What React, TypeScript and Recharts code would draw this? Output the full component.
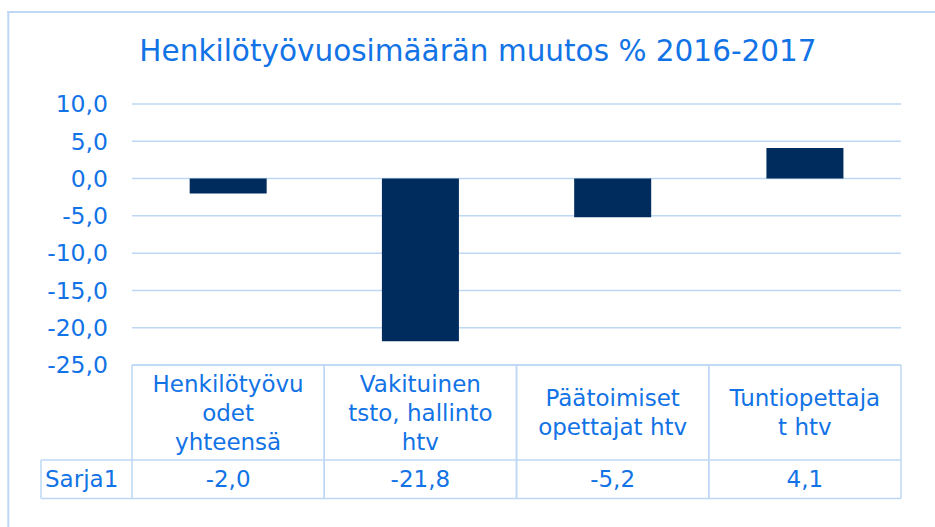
import React from 'react';
import { BarChart, Bar, XAxis, YAxis, CartesianGrid } from 'recharts';

const chartTitle = 'Henkilötyövuosimäärän muutos % 2016-2017';
const categories = [
  'Henkilötyövuodet yhteensä',
  'Vakituinen tsto, hallinto htv',
  'Päätoimiset opettajat htv',
  'Tuntiopettajat htv',
];
const categoryLabelLines = [
  ['Henkilötyövu', 'odet', 'yhteensä'],
  ['Vakituinen', 'tsto, hallinto', 'htv'],
  ['Päätoimiset', 'opettajat htv'],
  ['Tuntiopettaja', 't htv'],
];
const seriesName = 'Sarja1';
const sarja1Values = [-2.0, -21.8, -5.2, 4.1];
const yTicks = [10, 5, 0, -5, -10, -15, -20, -25];

const data = categories.map((c, i) => ({ name: c, value: sarja1Values[i] }));

const W = 935;
const H = 527;
const MARGIN = { top: 104, right: 34, bottom: 0, left: 0 };
const Y_AXIS_W = 132;
const X_AXIS_H = 162;
const PLOT_LEFT = MARGIN.left + Y_AXIS_W;
const PLOT_RIGHT = W - MARGIN.right;
const PLOT_BOTTOM = H - MARGIN.bottom - X_AXIS_H;
const BAND = (PLOT_RIGHT - PLOT_LEFT) / categories.length;
const HEADER_H = 95;
const ROW_H = 38.5;
const SERIES_CELL_W = 91;
const FONT = '"DejaVu Sans", Verdana, sans-serif';
const TEXT = '#1273E6';
const LINE = '#BDD7F5';
const BAR = '#002C5D';
const FS = 23;
const TICK_FS = 23.5;

const fmt = (v: number) => v.toFixed(1).replace('.', ',');

function TableTick(props: any) {
  const { x, payload } = props;
  let i = payload && typeof payload.index === 'number' ? payload.index : categories.indexOf(payload.value);
  if (i < 0) i = categories.indexOf(payload.value);
  const top = PLOT_BOTTOM;
  const left = x - BAND / 2;
  const right = x + BAND / 2;
  const lines = categoryLabelLines[i] || [String(payload.value)];
  const lh = 29.2;
  const headerCenter = top + HEADER_H / 2;
  const firstBaseline = headerCenter + 8.2 - ((lines.length - 1) / 2) * lh;
  const rowTop = top + HEADER_H;
  const rowBottom = rowTop + ROW_H;
  const rowBaseline = (rowTop + rowBottom) / 2 + 8.2;
  return (
    <g>
      <line x1={left} x2={right} y1={top} y2={top} stroke={LINE} strokeWidth={1.5} />
      <line x1={left} x2={right} y1={rowTop} y2={rowTop} stroke={LINE} strokeWidth={1.5} />
      <line x1={left} x2={right} y1={rowBottom} y2={rowBottom} stroke={LINE} strokeWidth={1.5} />
      <line x1={left} x2={left} y1={top} y2={rowBottom} stroke={LINE} strokeWidth={1.5} />
      <line x1={right} x2={right} y1={top} y2={rowBottom} stroke={LINE} strokeWidth={1.5} />
      {lines.map((ln, k) => (
        <text key={k} x={x} y={firstBaseline + k * lh} textAnchor="middle" fill={TEXT} fontSize={FS} fontFamily={FONT}>
          {ln}
        </text>
      ))}
      <text x={x} y={rowBaseline} textAnchor="middle" fill={TEXT} fontSize={FS} fontFamily={FONT}>
        {fmt(sarja1Values[i])}
      </text>
      {i === 0 && (
        <g>
          <line x1={PLOT_LEFT - SERIES_CELL_W} x2={left} y1={rowTop} y2={rowTop} stroke={LINE} strokeWidth={1.5} />
          <line x1={PLOT_LEFT - SERIES_CELL_W} x2={left} y1={rowBottom} y2={rowBottom} stroke={LINE} strokeWidth={1.5} />
          <line x1={PLOT_LEFT - SERIES_CELL_W} x2={PLOT_LEFT - SERIES_CELL_W} y1={rowTop} y2={rowBottom} stroke={LINE} strokeWidth={1.5} />
          <text x={PLOT_LEFT - SERIES_CELL_W + 4} y={rowBaseline} textAnchor="start" fill={TEXT} fontSize={FS} fontFamily={FONT}>
            {seriesName}
          </text>
        </g>
      )}
    </g>
  );
}

export default function App() {
  return (
    <div style={{ position: 'absolute', top: 0, left: 0, width: W, height: H, overflow: 'hidden', background: '#fff' }}>
      <svg width={W} height={H} style={{ position: 'absolute', top: 0, left: 0 }}>
        <line x1={8.3} x2={8.3} y1={11} y2={H} stroke={LINE} strokeWidth={2} />
        <line x1={7.3} x2={W} y1={12} y2={12} stroke={LINE} strokeWidth={2} />
        <text x={478} y={60.7} textAnchor="middle" fill={TEXT} fontSize={29.5} fontFamily={FONT}>
          {chartTitle}
        </text>
      </svg>
      <div style={{ position: 'absolute', top: 0, left: 0 }}>
        <BarChart width={W} height={H} data={data} margin={MARGIN} barCategoryGap="30%" style={{ fontFamily: FONT }}>
          <CartesianGrid vertical={false} stroke={LINE} strokeWidth={1.5} />
          <XAxis
            dataKey="name"
            height={X_AXIS_H}
            axisLine={false}
            tickLine={false}
            interval={0}
            tick={<TableTick />}
          />
          <YAxis
            type="number"
            domain={[-25, 10]}
            ticks={yTicks}
            interval={0}
            width={Y_AXIS_W}
            axisLine={false}
            tickLine={false}
            tickSize={0}
            tickMargin={24}
            tickFormatter={fmt}
            tick={{ fill: TEXT, fontSize: TICK_FS, fontFamily: FONT }}
          />
          <Bar dataKey="value" fill={BAR} isAnimationActive={false} />
        </BarChart>
      </div>
    </div>
  );
}
